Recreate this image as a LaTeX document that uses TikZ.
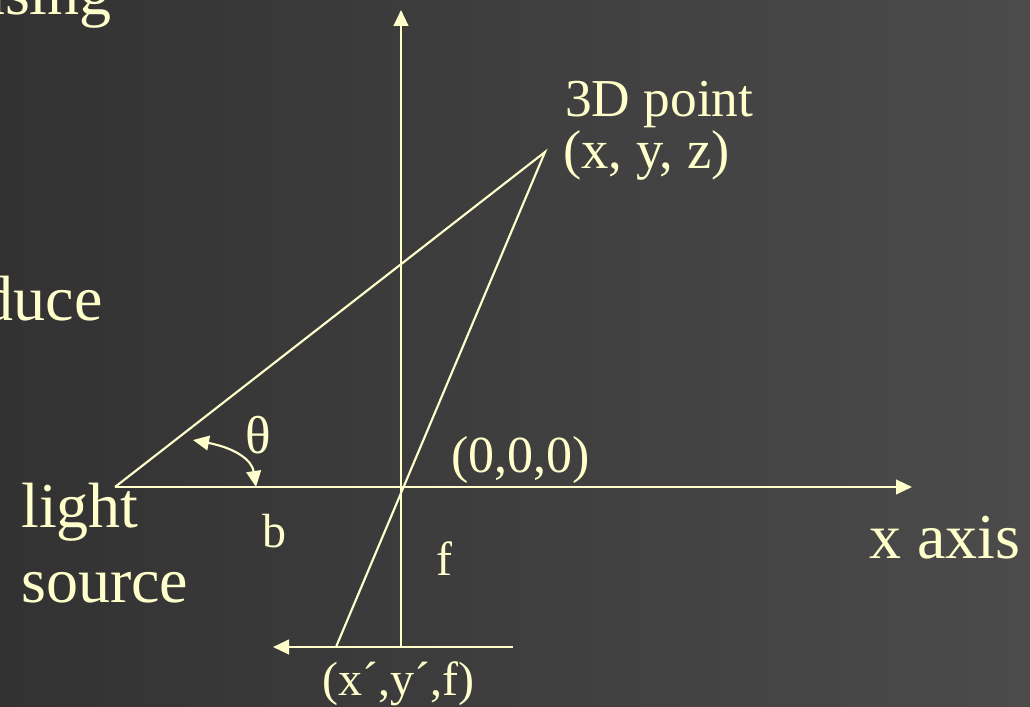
\documentclass[tikz,border=0pt]{standalone}
\usepackage{fontspec}
\setmainfont{Liberation Serif}
\usetikzlibrary{arrows.meta}
\definecolor{cream}{HTML}{FFFFCC}
\definecolor{bgleft}{HTML}{323232}
\definecolor{bgright}{HTML}{4B4B4B}
\tikzset{
  ln/.style={draw=cream, line width=1.6pt},
  arr/.style={ln, -{Triangle[width=11pt,length=12pt]}},
  lbl/.style={text=cream, inner sep=0pt, anchor=base west},
  big/.style={lbl, font=\fontsize{48}{52}\selectfont},
  mid/.style={lbl, font=\fontsize{40}{44}\selectfont},
  sml/.style={lbl, font=\fontsize{36}{40}\selectfont},
}
\begin{document}
\begin{tikzpicture}[x=0.75pt,y=-0.75pt]
\useasboundingbox (0,0) rectangle (1030,706);
\shade[left color=bgleft, right color=bgright] (0,0) rectangle (1030,706);
\clip (0,0) rectangle (1030,706);
% coordinates
\coordinate (O) at (401,487);
\coordinate (Ytop) at (401,10);
\coordinate (Ybot) at (401,647);
\coordinate (L) at (115,487);
\coordinate (Xend) at (912,487);
\coordinate (P) at (545,152);
\coordinate (Q) at (336,647);
\coordinate (Bright) at (513,647);
\coordinate (Bleft) at (273,647);
\coordinate (T1) at (193,440);
\coordinate (T2) at (256,487);
% lines
\draw[arr] (Ybot) -- (Ytop);
\draw[arr] (L) -- (Xend);
\draw[ln] (L) -- (P) -- (Q);
\draw[arr] (Bright) -- (Bleft);
\draw[ln, {Triangle[width=11pt,length=12pt]}-{Triangle[width=11pt,length=12pt]}] (T1) .. controls (235,448) and (252,460) .. (T2);
% texts
\node[big, anchor=base east] (using) at (112,15) {using};
\node[big, anchor=base east] (duce) at (103,320) {duce};
\node[mid] (pt) at (565,117) {3D point};
\node[mid, font=\fontsize{41}{44}\selectfont] (xyz) at (563,168) {(x, y, z)};
\node[mid, font=\fontsize{39}{44}\selectfont] (orig) at (451,472) {(0,0,0)};
\node[big] (light) at (21,527) {light};
\node[big] (source) at (21,602) {source};
\node[sml] (b) at (262,547) {b};
\node[sml] (f) at (436,575) {f};
\node[sml] (img) at (322,695) {(x´,y´,f)};
\node[big] (xaxis) at (869,558) {x axis};
\node[mid] (theta) at (245,453) {θ};
\end{tikzpicture}
\end{document}
